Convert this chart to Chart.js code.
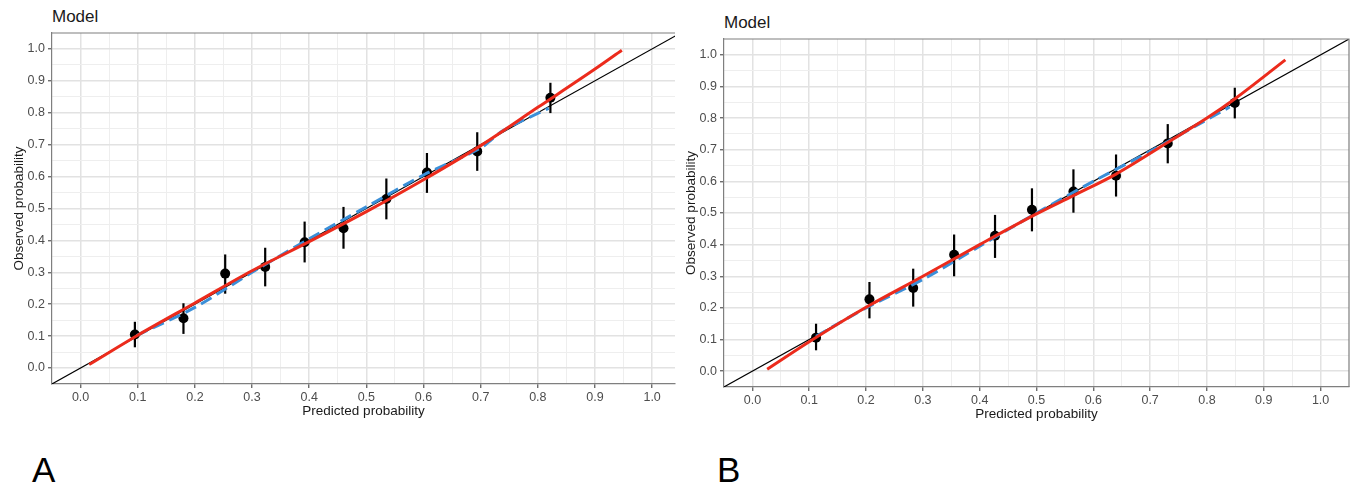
<!DOCTYPE html>
<html>
<head>
<meta charset="utf-8">
<script src="https://cdn.jsdelivr.net/npm/chart.js@4"></script>
<style>
  body { margin: 0; background: #fff; width: 1354px; height: 484px; position: relative; overflow: hidden; font-family: "Liberation Sans", Arial, sans-serif; }
  canvas { position: absolute; top: 0; }
  .lbl { position: absolute; line-height: 1; color: #000; white-space: nowrap; }
  .title { font-size: 17px; color: #1a1a1a; }
  .panel { font-size: 35px; }
</style>
</head>
<body>
<div class="lbl title" style="left:52px; top:8px;">Model</div>
<div class="lbl title" style="left:724px; top:14px;">Model</div>
<canvas id="chartA" width="680" height="424" style="left:0px;"></canvas>
<canvas id="chartB" width="682" height="430" style="left:672px;"></canvas>
<div class="lbl panel" style="left:32px; top:452px;">A</div>
<div class="lbl panel" style="left:717px; top:452px;">B</div>
<script>
// tick positions (major every 0.1, minor in between)
const majorTicks = [0, 0.1, 0.2, 0.3, 0.4, 0.5, 0.6, 0.7, 0.8, 0.9, 1.0];
const gridTicks = [0, 0.05, 0.1, 0.15, 0.2, 0.25, 0.3, 0.35, 0.4, 0.45, 0.5, 0.55, 0.6, 0.65, 0.7, 0.75, 0.8, 0.85, 0.9, 0.95, 1.0];

// panel A - grouped observations
const predA = [0.095, 0.180, 0.253, 0.323, 0.392, 0.460, 0.535, 0.606, 0.694, 0.822];
const obsA  = [0.105, 0.156, 0.296, 0.317, 0.394, 0.438, 0.530, 0.613, 0.679, 0.847];
const loA   = [0.065, 0.107, 0.233, 0.256, 0.331, 0.374, 0.466, 0.549, 0.618, 0.799];
const hiA   = [0.145, 0.203, 0.356, 0.377, 0.459, 0.505, 0.594, 0.674, 0.739, 0.894];
// panel A - smoothed curves
const redAx  = [0.015, 0.1, 0.2, 0.3, 0.4, 0.5, 0.6, 0.7, 0.8, 0.9, 0.947];
const redAy  = [0.011, 0.103, 0.204, 0.305, 0.396, 0.490, 0.590, 0.697, 0.817, 0.937, 0.996];
const blueAx = [0.098, 0.2, 0.3, 0.4, 0.5, 0.6, 0.7, 0.74, 0.819];
const blueAy = [0.102, 0.190, 0.300, 0.405, 0.505, 0.605, 0.690, 0.745, 0.814];

// panel B - grouped observations
const predB = [0.112, 0.206, 0.283, 0.355, 0.427, 0.492, 0.565, 0.640, 0.731, 0.849];
const obsB  = [0.106, 0.227, 0.263, 0.368, 0.428, 0.510, 0.568, 0.618, 0.720, 0.848];
const loB   = [0.066, 0.167, 0.204, 0.300, 0.358, 0.442, 0.501, 0.552, 0.657, 0.799];
const hiB   = [0.150, 0.282, 0.324, 0.432, 0.494, 0.578, 0.638, 0.685, 0.781, 0.896];
// panel B - smoothed curves
const redBx  = [0.026, 0.1, 0.2, 0.3, 0.4, 0.5, 0.565, 0.64, 0.73, 0.8, 0.85, 0.938];
const redBy  = [0.006, 0.093, 0.202, 0.300, 0.400, 0.497, 0.555, 0.623, 0.722, 0.800, 0.862, 0.984];
const blueBx = [0.112, 0.2, 0.3, 0.4, 0.5, 0.6, 0.7, 0.84];
const blueBy = [0.110, 0.200, 0.290, 0.395, 0.500, 0.600, 0.695, 0.835];

// ideal line
const idealX = [-0.05, 1.05];

Chart.defaults.font.family = '"Liberation Sans", Arial, sans-serif';

const isMajor = v => Math.abs(v * 10 - Math.round(v * 10)) < 1e-6;

const zip = (xs, ys) => xs.map((x, i) => ({ x: x, y: ys[i] }));

// panel frame (top / right lines, left and bottom come from the axes)
const framePlugin = {
  id: 'frame',
  afterDatasetsDraw(chart, args, opts) {
    const a = chart.chartArea;
    const ctx = chart.ctx;
    ctx.save();
    ctx.strokeStyle = '#7f7f7f';
    ctx.lineWidth = 1.2;
    ctx.beginPath();
    ctx.moveTo(a.left, a.top);
    ctx.lineTo(a.right, a.top);
    if (opts.right) ctx.lineTo(a.right, a.bottom);
    ctx.stroke();
    ctx.restore();
  }
};

function axis(opts) {
  return {
    type: 'linear',
    min: -0.05,
    max: opts.max,
    afterBuildTicks: s => { s.ticks = gridTicks.map(v => ({ value: v })); },
    afterFit: opts.fit,
    ticks: {
      autoSkip: false,
      maxRotation: 0,
      padding: opts.pad,
      color: '#4d4d4d',
      font: { size: 12.5 },
      callback: v => isMajor(v) ? v.toFixed(1) : ''
    },
    grid: {
      color: c => isMajor(c.tick.value) ? '#e2e2e2' : '#eeeeee',
      lineWidth: c => isMajor(c.tick.value) ? 1.5 : 1,
      tickColor: c => isMajor(c.tick.value) ? '#555' : 'rgba(0,0,0,0)',
      tickWidth: 1.2,
      tickLength: 4
    },
    border: { display: true, color: '#7f7f7f', width: 1.2 },
    title: {
      display: true,
      text: opts.title,
      color: '#1a1a1a',
      font: { size: 13.5 },
      padding: opts.titlePad
    }
  };
}

function makeChart(id, p) {
  const datasets = [
    { data: zip(p.redX, p.redY), showLine: true, borderColor: '#ec2b1c', borderWidth: 3, pointRadius: 0, cubicInterpolationMode: 'monotone' },
    { data: zip(p.blueX, p.blueY), showLine: true, borderColor: '#3a8fd8', borderWidth: 3, borderDash: [12, 6], pointRadius: 0, tension: 0.3 },
    { data: zip(idealX, idealX), showLine: true, borderColor: '#000', borderWidth: 1.1, pointRadius: 0 },
    { data: zip(p.pred, p.obs), showLine: false, pointRadius: 5, pointBackgroundColor: '#000', pointBorderWidth: 0 }
  ];
  p.pred.forEach((x, i) => {
    datasets.push({ data: [{ x: x, y: p.lo[i] }, { x: x, y: p.hi[i] }], showLine: true, borderColor: '#000', borderWidth: 2.2, pointRadius: 0 });
  });

  return new Chart(document.getElementById(id), {
    type: 'scatter',
    data: { datasets: datasets },
    options: {
      responsive: false,
      animation: false,
      layout: { padding: p.padding },
      plugins: {
        legend: { display: false },
        tooltip: { enabled: false },
        frame: { right: p.frameRight }
      },
      scales: {
        x: axis({ max: p.xMax, title: 'Predicted probability', pad: 2, titlePad: { top: 0, bottom: p.xTitleBottom }, fit: s => { s.height = p.xHeight; } }),
        y: axis({ max: 1.05, title: 'Observed probability', pad: 3, titlePad: { top: 11, bottom: 0 }, fit: s => { s.width = 52; } })
      }
    },
    plugins: [framePlugin]
  });
}

makeChart('chartA', {
  pred: predA, obs: obsA, lo: loA, hi: hiA,
  redX: redAx, redY: redAy, blueX: blueAx, blueY: blueAy,
  xMax: 1.04, frameRight: false,
  padding: { top: 33, left: 0, right: 0, bottom: 0 },
  xHeight: 40, xTitleBottom: 5
});

makeChart('chartB', {
  pred: predB, obs: obsB, lo: loB, hi: hiB,
  redX: redBx, redY: redBy, blueX: blueBx, blueY: blueBy,
  xMax: 1.05, frameRight: true,
  padding: { top: 39, left: 0, right: 4, bottom: 0 },
  xHeight: 43, xTitleBottom: 8
});
</script>
</body>
</html>
